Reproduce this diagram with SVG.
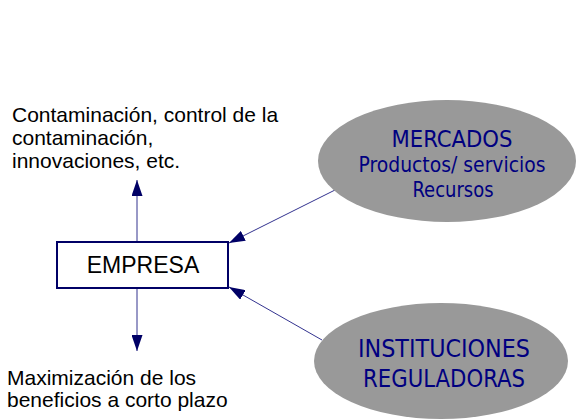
<svg xmlns="http://www.w3.org/2000/svg" width="578" height="419" viewBox="0 0 578 419">
  <style>
    .lbl { font-family: "Liberation Sans", Arial, sans-serif; font-size: 21px; fill: #000000; }
    .ell { fill: #999999; stroke: none; }
    .etx { font-family: "DejaVu Sans Condensed", "DejaVu Sans", sans-serif; font-stretch: condensed; fill: #000080; text-anchor: middle; }
    .box { fill: #ffffff; stroke: #000066; stroke-width: 2; }
    .con { fill: none; stroke: #33338f; stroke-width: 1; marker-end: url(#ah); }
  </style>
  <defs>
    <marker id="ah" markerUnits="userSpaceOnUse" markerWidth="16" markerHeight="11" refX="16" refY="5.5" orient="auto">
      <path d="M0,0 L16,5.5 L0,11 z" fill="#000066"/>
    </marker>
  </defs>

  <g id="connectors">
    <line class="con" x1="137" y1="241" x2="137" y2="180"/>
    <line class="con" x1="137" y1="289" x2="137" y2="351"/>
    <line class="con" x1="335" y1="190" x2="229" y2="243"/>
    <line class="con" x1="322" y1="340" x2="229" y2="287"/>
  </g>

  <g id="label-top">
    <text class="lbl" x="12" y="122">Contaminación, control de la</text>
    <text class="lbl" x="12" y="145">contaminación,</text>
    <text class="lbl" x="12" y="168">innovaciones, etc.</text>
  </g>

  <g id="label-bottom">
    <text class="lbl" x="7" y="385">Maximización de los</text>
    <text class="lbl" x="7" y="407">beneficios a corto plazo</text>
  </g>

  <g id="empresa">
    <rect class="box" x="57" y="242" width="171" height="46"/>
    <text x="143" y="273" font-family="Liberation Sans, Arial, sans-serif" font-size="23" text-anchor="middle" fill="#000000">EMPRESA</text>
  </g>

  <g id="mercados">
    <ellipse class="ell" cx="447" cy="161" rx="129" ry="61"/>
    <text class="etx" x="452" y="147" font-size="23" textLength="121" lengthAdjust="spacingAndGlyphs">MERCADOS</text>
    <text class="etx" x="452" y="172" font-size="21.5" textLength="187" lengthAdjust="spacingAndGlyphs">Productos/ servicios</text>
    <text class="etx" x="453" y="197" font-size="21.5" textLength="81" lengthAdjust="spacingAndGlyphs">Recursos</text>
  </g>

  <g id="instituciones">
    <ellipse class="ell" cx="441" cy="361" rx="127" ry="58"/>
    <text class="etx" x="444" y="357" font-size="24" textLength="172" lengthAdjust="spacingAndGlyphs">INSTITUCIONES</text>
    <text class="etx" x="444" y="387" font-size="24" textLength="162" lengthAdjust="spacingAndGlyphs">REGULADORAS</text>
  </g>
</svg>
